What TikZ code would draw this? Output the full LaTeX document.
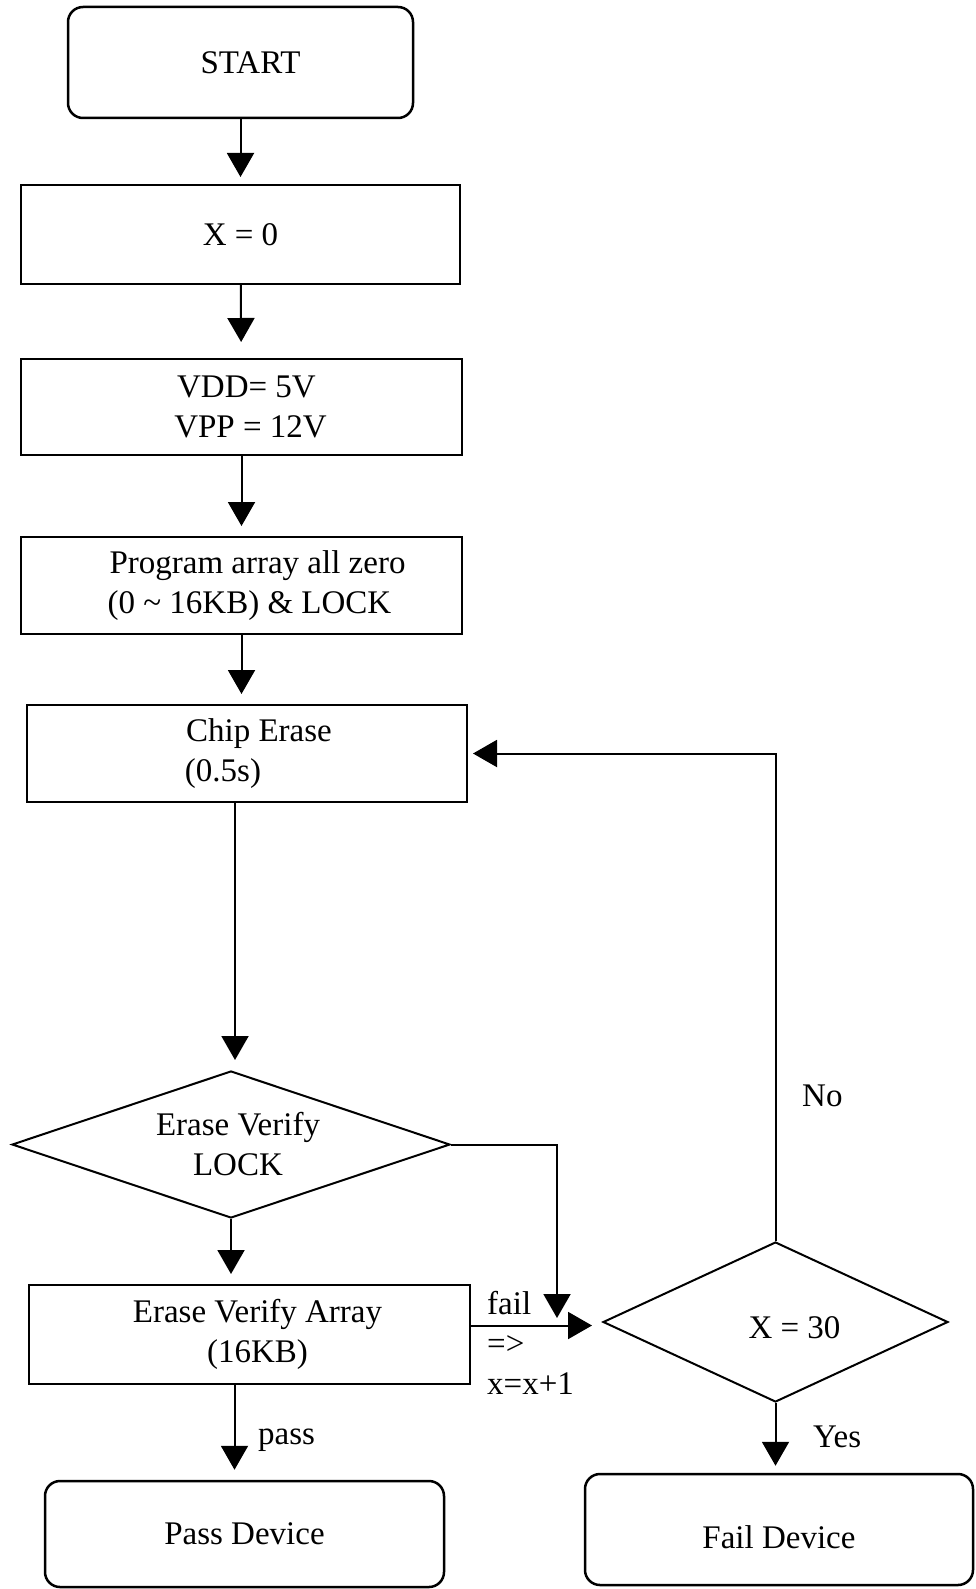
\documentclass[tikz,border=0pt]{standalone}
\usepackage{fontspec}
\setmainfont{Liberation Serif}
\usetikzlibrary{arrows.meta, positioning, shapes.geometric, calc}

\begin{document}
\begin{tikzpicture}[x=1pt, y=-1pt,
    every node/.style={font=\fontsize{33}{40}\selectfont},
    terminal/.style={draw, line width=2.5pt, rounded corners=15pt, align=center, inner sep=0pt},
    block/.style={draw, line width=2pt, align=center, inner sep=0pt},
    decision/.style={draw, diamond, line width=2pt, align=center, inner sep=0pt},
    flow/.style={-{Triangle[width=27pt, length=24pt]}, line width=2pt, shorten >=10pt},
    label/.style={anchor=west, inner sep=0pt}
]
\useasboundingbox (0,0) rectangle (975,1589);

% Start
\node[terminal, minimum width=345pt, minimum height=111pt] (start) at (240.5,62.5) {\hspace*{20pt}START};

% Counter reset
\node[block, minimum width=439pt, minimum height=99pt] (xzero) at (240.5,234.5) {X = 0};

% Supply voltages
\node[block, minimum width=441pt, minimum height=96pt] (supply) at (241.5,407) {\hspace*{10pt}VDD= 5V\\\hspace*{18pt}VPP = 12V};

% Program all zero
\node[block, minimum width=441pt, minimum height=97pt] (program) at (241.5,585.5) {\hspace*{32pt}Program array all zero\\\hspace*{16pt}(0 \textasciitilde{} 16KB) \& LOCK};

% Chip erase
\node[block, minimum width=440pt, minimum height=97pt] (chiperase) at (247,753.5) {\hspace*{24pt}Chip Erase\\(0.5s)\hspace*{48pt}};

% Verify lock
\node[decision, minimum width=438pt, minimum height=147pt, shape aspect=2.98] (verifylock) at (231,1144.5) {\hspace*{14pt}Erase Verify\\\hspace*{14pt}LOCK};

% Verify array
\node[block, minimum width=441pt, minimum height=99pt] (verifyarray) at (249.5,1334.5) {\hspace*{16pt}Erase Verify Array\\\hspace*{16pt}(16KB)};

% Retry limit
\node[decision, minimum width=345pt, minimum height=160pt, shape aspect=2.16] (limit) at (775.5,1322) {\hspace*{38pt}\raisebox{-6pt}[\height][\depth]{X = 30}};

% End states
\node[terminal, minimum width=399pt, minimum height=106pt] (passdev) at (244.5,1534) {Pass Device};
\node[terminal, minimum width=388pt, minimum height=111pt] (faildev) at (779,1529.5) {\raisebox{-8pt}[\height][\depth]{Fail Device}};

% Main flow
\draw[flow, shorten >=7pt] (start) -- (xzero);
\draw[flow, shorten >=16pt] (xzero) -- (supply);
\draw[flow] (supply) -- (program);
\draw[flow] (program.south) -- (program.south |- chiperase.north);
\draw[flow] ([xshift=4pt]chiperase.south -| verifylock.north) -- ([xshift=4pt]verifylock.north);
\draw[flow] (verifylock) -- (verifyarray.north -| verifylock.south);

% Fail path into retry check
\coordinate (merge) at (557,1325);
\draw[flow] ([yshift=9pt]verifyarray.east) -- ([yshift=9pt]verifyarray.east -| limit.west);
\draw[flow, shorten >=7pt] (verifylock.east) -| (merge);
\node[label, align=left] (failnote) at (487,1343) {fail\\=>\\x=x+1};

% Pass
\draw[flow] ([xshift=-15pt]verifyarray.south) -- ([xshift=-15pt]verifyarray.south |- passdev.north);
\node[label] (passlbl) at (258,1440) {pass};

% Retry loop back to erase
\draw[flow, shorten >=5pt] (limit.north) |- (chiperase.east);
\node[label] (nolbl) at (802,1096) {No};

% Give up
\draw[flow, shorten >=7pt] (limit.south) -- (faildev.north -| limit.south);
\node[label] (yeslbl) at (813,1437) {Yes};

\end{tikzpicture}
\end{document}
